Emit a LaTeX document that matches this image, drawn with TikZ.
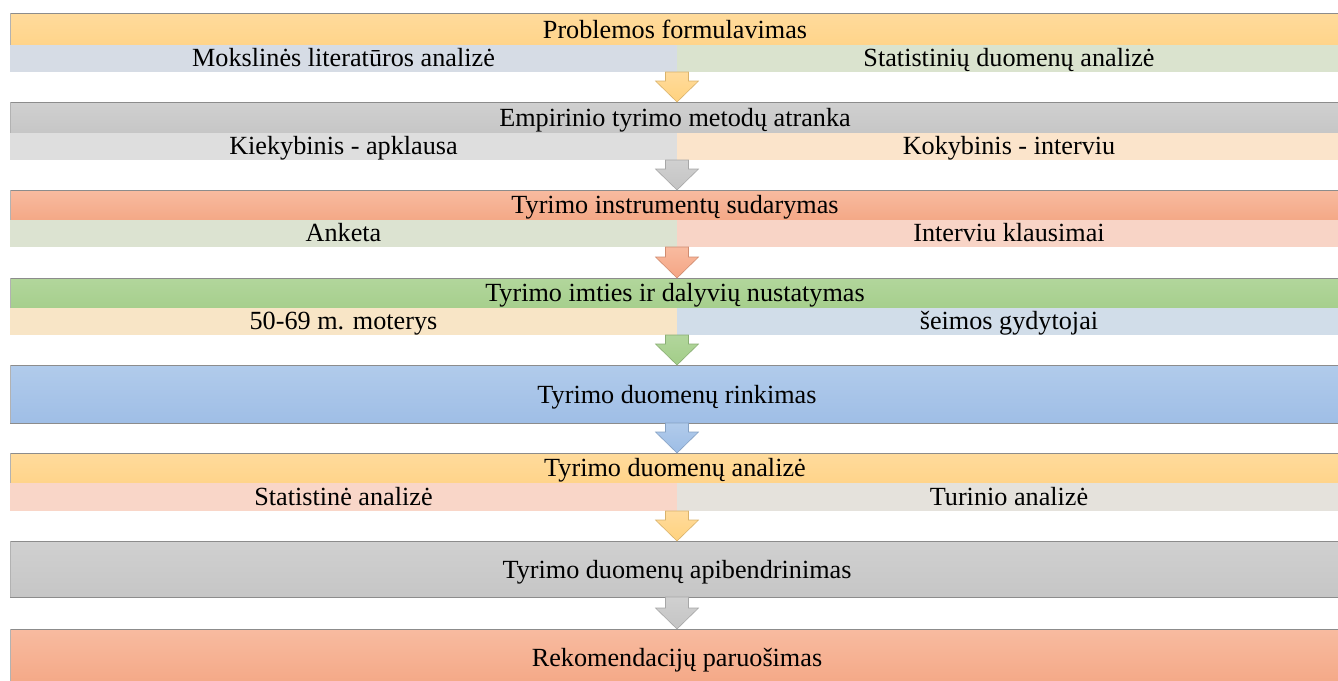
\documentclass[tikz,border=0pt]{standalone}
\usepackage{fontspec}
\setmainfont{Liberation Serif}
\usetikzlibrary{calc}
\definecolor{orT}{HTML}{FFDB9C}\definecolor{orB}{HTML}{FFD48A}\definecolor{orA}{HTML}{FFD27E}
\definecolor{grT}{HTML}{D0D0D0}\definecolor{grB}{HTML}{C6C6C6}\definecolor{grA}{HTML}{C4C4C4}
\definecolor{saT}{HTML}{F8BBA0}\definecolor{saB}{HTML}{F4A886}\definecolor{saA}{HTML}{F5A584}
\definecolor{gnT}{HTML}{B2D69C}\definecolor{gnB}{HTML}{A6CF8D}\definecolor{gnA}{HTML}{A2CD88}
\definecolor{blT}{HTML}{B1CBEB}\definecolor{blB}{HTML}{9FBEE6}\definecolor{blA}{HTML}{9DBDE5}
\definecolor{s1l}{HTML}{D6DCE5}\definecolor{s1r}{HTML}{DAE3CE}
\definecolor{s2l}{HTML}{DEDEDE}\definecolor{s2r}{HTML}{FBE4CB}
\definecolor{s3l}{HTML}{DCE3D1}\definecolor{s3r}{HTML}{F8D4C6}
\definecolor{s4l}{HTML}{F8E5C6}\definecolor{s4r}{HTML}{D1DDE9}
\definecolor{s6l}{HTML}{F9D6C8}\definecolor{s6r}{HTML}{E5E2DC}
\begin{document}
\begin{tikzpicture}[x=1pt,y=-1pt,
  band/.style={anchor=north west, inner sep=0pt, outer sep=0pt, minimum width=1334pt},
  half/.style={anchor=north west, inner sep=0pt, outer sep=0pt, minimum width=667pt, minimum height=27pt},
  topline/.style={draw=black!45, line width=1pt},
  sideline/.style={draw=black!30, line width=0.8pt},
  lbl/.style={anchor=base, inner sep=0pt, font=\fontsize{26.2}{30}\selectfont},
  arr/.style={line width=0.6pt, to path={let \p1=(\tikztostart),\p2=(\tikztotarget) in
     (\x1-11.5pt,\y1) -- (\x1-11.5pt,\y2+21pt) -- (\x1-21.5pt,\y2+21pt) -- (\x1,\y2)
     -- (\x1+21.5pt,\y2+21pt) -- (\x1+11.5pt,\y2+21pt) -- (\x1+11.5pt,\y1) -- cycle}}]
\useasboundingbox (0,0) rectangle (1338,680);
\clip (0,0) rectangle (1338,680);
% band 1
\node[band, minimum height=32pt, top color=orT, bottom color=orB] (h1) at (10,13) {};
\node[half, fill=s1l] (a1) at (10,45) {};
\node[half, fill=s1r] (b1) at (677,45) {};
% band 2
\node[band, minimum height=31pt, top color=grT, bottom color=grB] (h2) at (10,102) {};
\node[half, fill=s2l] (a2) at (10,133) {};
\node[half, fill=s2r] (b2) at (677,133) {};
% band 3
\node[band, minimum height=30pt, top color=saT, bottom color=saB] (h3) at (10,190) {};
\node[half, fill=s3l] (a3) at (10,220) {};
\node[half, fill=s3r] (b3) at (677,220) {};
% band 4
\node[band, minimum height=30pt, top color=gnT, bottom color=gnB] (h4) at (10,278) {};
\node[half, fill=s4l] (a4) at (10,308) {};
\node[half, fill=s4r] (b4) at (677,308) {};
% band 5
\node[band, minimum height=58pt, top color=blT, bottom color=blB] (h5) at (10,365) {};
% band 6
\node[band, minimum height=30pt, top color=orT, bottom color=orB] (h6) at (10,453) {};
\node[half, minimum height=28pt, fill=s6l] (a6) at (10,483) {};
\node[half, minimum height=28pt, fill=s6r] (b6) at (677,483) {};
% band 7
\node[band, minimum height=56pt, top color=grT, bottom color=grB] (h7) at (10,541) {};
% band 8
\node[band, minimum height=56pt, top color=saT, bottom color=saB] (h8) at (10,629) {};
% borders
\foreach \n in {h1,h2,h3,h4,h5,h6,h7,h8}{
  \draw[topline] (\n.north west) -- (\n.north east);
  \draw[sideline] (\n.north west) -- (\n.south west);
}
\foreach \n in {h5,h7}{ \draw[topline] (\n.south west) -- (\n.south east); }
% texts
\node[lbl] (t1) at (675,38) {Problemos formulavimas};
\node[lbl] (t1a) at (343.5,66.5) {Mokslinės literatūros analizė};
\node[lbl] (t1b) at (1009,66.5) {Statistinių duomenų analizė};
\node[lbl] (t2) at (675,126) {Empirinio tyrimo metodų atranka};
\node[lbl] (t2a) at (343.5,154.5) {Kiekybinis - apklausa};
\node[lbl] (t2b) at (1009,154.5) {Kokybinis - interviu};
\node[lbl] (t3) at (675,213) {Tyrimo instrumentų sudarymas};
\node[lbl] (t3a) at (343.5,241.5) {Anketa};
\node[lbl] (t3b) at (1009,241.5) {Interviu klausimai};
\node[lbl] (t4) at (675,301) {Tyrimo imties ir dalyvių nustatymas};
\node[lbl] (t4a) at (343.5,329.5) {50-69 m. moterys};
\node[lbl] (t4b) at (1009,329.5) {šeimos gydytojai};
\node[lbl] (t5) at (677,403) {Tyrimo duomenų rinkimas};
\node[lbl] (t6) at (675,476) {Tyrimo duomenų analizė};
\node[lbl] (t6a) at (343.5,505.5) {Statistinė analizė};
\node[lbl] (t6b) at (1009,505.5) {Turinio analizė};
\node[lbl] (t7) at (677,578) {Tyrimo duomenų apibendrinimas};
\node[lbl] (t8) at (677,666) {Rekomendacijų paruošimas};
% arrows
\draw[arr, top color=orT, bottom color=orA, draw=orA!85!black] (a1.south east) to (h2.north);
\draw[arr, top color=grT, bottom color=grA, draw=grA!85!black] (a2.south east) to (h3.north);
\draw[arr, top color=saT, bottom color=saA, draw=saA!85!black] (a3.south east) to (h4.north);
\draw[arr, top color=gnT, bottom color=gnA, draw=gnA!85!black] (a4.south east) to (h5.north);
\draw[arr, top color=blT, bottom color=blA, draw=blA!85!black] (h5.south) to (h6.north);
\draw[arr, top color=orT, bottom color=orA, draw=orA!85!black] (a6.south east) to (h7.north);
\draw[arr, top color=grT, bottom color=grA, draw=grA!85!black] (h7.south) to (h8.north);
\end{tikzpicture}
\end{document}
